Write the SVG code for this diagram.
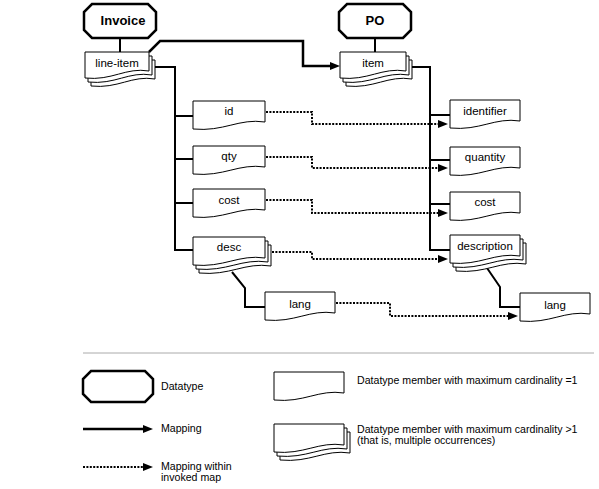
<svg xmlns="http://www.w3.org/2000/svg" xmlns:xlink="http://www.w3.org/1999/xlink" width="599" height="489" viewBox="0 0 599 489">
<style>
  .oct { fill: #fff; stroke: #000; stroke-width: 2.5; stroke-linejoin: miter; }
  .t { font-family: "Liberation Sans", Arial, sans-serif; font-size: 11.5px; fill: #000; text-anchor: middle; }
  .tb { font-family: "Liberation Sans", Arial, sans-serif; font-size: 13px; font-weight: bold; fill: #000; text-anchor: middle; }
  .lg { font-family: "Liberation Sans", Arial, sans-serif; font-size: 10.6px; fill: #000; }
  .solid { fill: none; stroke: #000; stroke-width: 2; stroke-linejoin: miter; }
  .map { fill: none; stroke: #000; stroke-width: 2.5; stroke-linejoin: miter; }
  .dot { fill: none; stroke: #000; stroke-width: 2; stroke-dasharray: 2 1.4; }
</style>
<defs>
  <marker id="arr" viewBox="0 0 10 8" refX="3" refY="4" markerWidth="10" markerHeight="8" markerUnits="userSpaceOnUse" orient="auto">
    <path d="M0,0 L10,4 L0,8 Z" fill="#000"/>
  </marker>
  <path id="d70" d="M0,0 H70 V21 C45,17 30,31 0,28 Z" fill="#fff" stroke="#000" stroke-width="1"/>
  <path id="d72" d="M0,0 H72 V21 C46,17 31,31 0,28 Z" fill="#fff" stroke="#000" stroke-width="1"/>
  <path id="d64" d="M0,0 H64 V19 C41,15 27,29 0,26 Z" fill="#fff" stroke="#000" stroke-width="1"/>
  <path id="d66" d="M0,0 H66 V19 C42,15 28,29 0,26 Z" fill="#fff" stroke="#000" stroke-width="1"/>
  <g id="s70"><use xlink:href="#d70" x="6" y="8"/><use xlink:href="#d70" x="3" y="4"/><use xlink:href="#d70"/></g>
  <g id="s72"><use xlink:href="#d72" x="6" y="8"/><use xlink:href="#d72" x="3" y="4"/><use xlink:href="#d72"/></g>
  <g id="s64"><use xlink:href="#d64" x="6" y="8"/><use xlink:href="#d64" x="3" y="4"/><use xlink:href="#d64"/></g>
  <g id="s66"><use xlink:href="#d66" x="6" y="8"/><use xlink:href="#d66" x="3" y="4"/><use xlink:href="#d66"/></g>
</defs>

<g id="connectors">
  <path class="solid" d="M120,38 V52"/>
  <path class="solid" d="M375,38 V52"/>
  <path class="map" d="M149,52 L160,41 H303 V66 H333" marker-end="url(#arr)"/>
  <path class="solid" d="M155,67 H175 V250 H193 M175,116 H193 M175,159 H193 M175,203 H193"/>
  <path class="solid" d="M411,67 H430 V250 H450 M430,115 H450 M430,160 H450 M430,204 H450"/>
  <path class="solid" d="M232,272 L245,288 V307 H265"/>
  <path class="solid" d="M487,268 L500,287 V307 H520"/>
  <path class="dot" d="M266,112 H312 V124 H441" marker-end="url(#arr)"/>
  <path class="dot" d="M266,157 H312 V168 H441" marker-end="url(#arr)"/>
  <path class="dot" d="M266,200 H312 V213 H441" marker-end="url(#arr)"/>
  <path class="dot" d="M272,252 H312 V259 H441" marker-end="url(#arr)"/>
  <path class="dot" d="M336,303 H390 V316 H511" marker-end="url(#arr)"/>
</g>

<g id="invoice">
  <path class="oct" d="M92,4 H148 L156,12 V30 L148,38 H92 L84,30 V12 Z"/>
  <text class="tb" x="123" y="25">Invoice</text>
</g>
<g id="po">
  <path class="oct" d="M347,4 H403 L411,12 V30 L403,38 H347 L339,30 V12 Z"/>
  <text class="tb" x="375" y="25">PO</text>
</g>
<g id="line-item">
  <use xlink:href="#s64" x="85" y="52"/>
  <text class="t" x="117" y="67">line-item</text>
</g>
<g id="item">
  <use xlink:href="#s66" x="340" y="52"/>
  <text class="t" x="373" y="67">item</text>
</g>
<g id="id">
  <use xlink:href="#d72" x="193" y="101"/>
  <text class="t" x="229" y="115">id</text>
</g>
<g id="qty">
  <use xlink:href="#d72" x="193" y="146"/>
  <text class="t" x="229" y="160">qty</text>
</g>
<g id="cost-left">
  <use xlink:href="#d72" x="193" y="189"/>
  <text class="t" x="229" y="204">cost</text>
</g>
<g id="desc">
  <use xlink:href="#s72" x="193" y="237"/>
  <text class="t" x="229" y="251">desc</text>
</g>
<g id="lang-left">
  <use xlink:href="#d70" x="265" y="292"/>
  <text class="t" x="300" y="308">lang</text>
</g>
<g id="identifier">
  <use xlink:href="#d70" x="450" y="100"/>
  <text class="t" x="485" y="115">identifier</text>
</g>
<g id="quantity">
  <use xlink:href="#d70" x="450" y="147"/>
  <text class="t" x="485" y="161">quantity</text>
</g>
<g id="cost-right">
  <use xlink:href="#d70" x="450" y="192"/>
  <text class="t" x="485" y="206">cost</text>
</g>
<g id="description">
  <use xlink:href="#s70" x="450" y="235"/>
  <text class="t" x="485" y="250">description</text>
</g>
<g id="lang-right">
  <use xlink:href="#d70" x="520" y="293"/>
  <text class="t" x="555" y="309">lang</text>
</g>

<g id="legend">
  <line x1="83" y1="353" x2="594" y2="353" stroke="#aaa" stroke-width="1"/>
  <path class="oct" d="M91,371 H145 L153,379 V394 L145,402 H91 L83,394 V379 Z"/>
  <text class="lg" x="161" y="390">Datatype</text>
  <path class="map" d="M83,429 H146" marker-end="url(#arr)"/>
  <text class="lg" x="161" y="432">Mapping</text>
  <path class="dot" d="M83,467 H146" marker-end="url(#arr)"/>
  <text class="lg" x="161" y="470">Mapping within</text>
  <text class="lg" x="161" y="481">invoked map</text>
  <use xlink:href="#d70" x="274" y="372"/>
  <text class="lg" x="357" y="384">Datatype member with maximum cardinality =1</text>
  <use xlink:href="#s70" x="274" y="424"/>
  <text class="lg" x="357" y="433">Datatype member with maximum cardinality &gt;1</text>
  <text class="lg" x="357" y="444">(that is, multiple occurrences)</text>
</g>
</svg>
